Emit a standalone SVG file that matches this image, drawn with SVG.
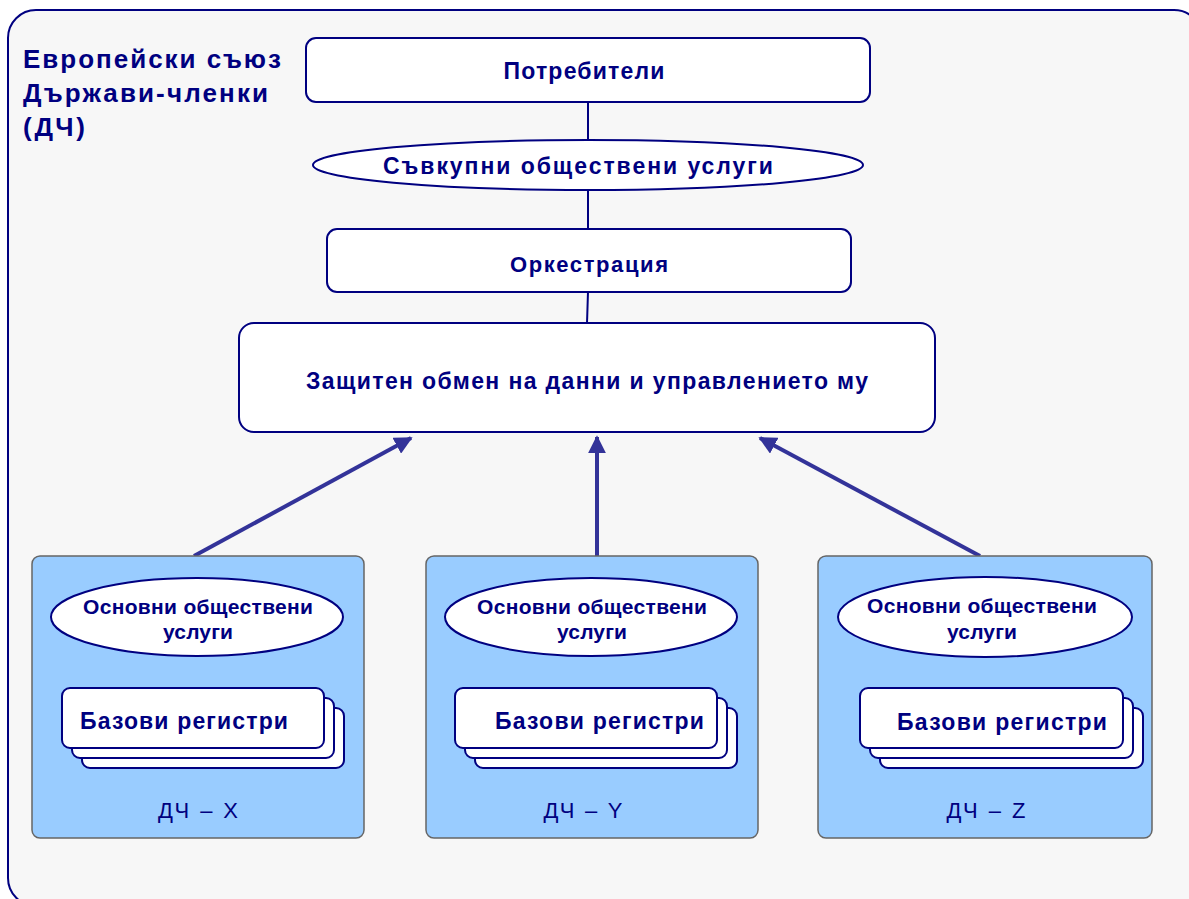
<svg xmlns="http://www.w3.org/2000/svg" width="1189" height="899" viewBox="0 0 1189 899">
<defs>
<style>
.t{font-family:"Liberation Sans",Arial,sans-serif;fill:#000080;font-weight:bold;}
.n{font-family:"Liberation Sans",Arial,sans-serif;fill:#000080;font-weight:normal;}
.box{fill:#ffffff;stroke:#000080;stroke-width:2;}
.ms{fill:#99ccff;stroke:#666666;stroke-width:1.5;}
.ln{stroke:#000080;stroke-width:2;fill:none;}
.ar{stroke:#333399;stroke-width:4;fill:none;}
</style>
<marker id="ah" viewBox="0 0 10 10" refX="9" refY="5" markerWidth="4.5" markerHeight="4.5" orient="auto" markerUnits="strokeWidth">
<path d="M0,0 L10,5 L0,10 z" fill="#333399"/>
</marker>
</defs>
<rect id="frame" x="8" y="10" width="1194" height="896" rx="28" fill="#f7f7f7" stroke="#000080" stroke-width="2"/>
<g id="title">
<text class="t" x="23" y="68" font-size="26" textLength="258" lengthAdjust="spacing">Европейски съюз</text>
<text class="t" x="23" y="102" font-size="26" textLength="245" lengthAdjust="spacing">Държави-членки</text>
<text class="t" x="23" y="136" font-size="26" textLength="62" lengthAdjust="spacing">(ДЧ)</text>
</g>
<g id="connectors">
<line class="ln" x1="588" y1="102" x2="588" y2="140"/>
<line class="ln" x1="588" y1="190" x2="588" y2="229"/>
<line class="ln" x1="588" y1="292" x2="587" y2="323"/>
<line class="ln" x1="197" y1="656" x2="193" y2="688"/>
<line class="ln" x1="592" y1="657" x2="587" y2="688"/>
<line class="ln" x1="986" y1="657" x2="991" y2="688"/>
<line class="ar" x1="194" y1="556" x2="411" y2="438" marker-end="url(#ah)"/>
<line class="ar" x1="597" y1="556" x2="597" y2="437" marker-end="url(#ah)"/>
<line class="ar" x1="980" y1="556" x2="760" y2="438" marker-end="url(#ah)"/>
</g>
<g id="users">
<rect class="box" x="306" y="38" width="564" height="64" rx="10"/>
<text class="t" x="584" y="79" font-size="23" text-anchor="middle" textLength="161" lengthAdjust="spacing">Потребители</text>
</g>
<g id="aggregate">
<ellipse class="box" cx="588" cy="165" rx="275" ry="25"/>
<text class="t" x="578" y="174" font-size="23" text-anchor="middle" textLength="390" lengthAdjust="spacing">Съвкупни обществени услуги</text>
</g>
<g id="orchestration">
<rect class="box" x="327" y="229" width="524" height="63" rx="10"/>
<text class="t" x="589" y="272" font-size="22" text-anchor="middle" textLength="158" lengthAdjust="spacing">Оркестрация</text>
</g>
<g id="exchange">
<rect class="box" x="239" y="323" width="696" height="109" rx="15"/>
<text class="t" x="587" y="389" font-size="23" text-anchor="middle" textLength="562" lengthAdjust="spacing">Защитен обмен на данни и управлението му</text>
</g>
<g id="ms-x">
<rect class="ms" x="32" y="556" width="332" height="282" rx="8"/>
<ellipse class="box" cx="197" cy="617" rx="146" ry="39"/>
<text class="t" x="198" y="614" font-size="21" text-anchor="middle" textLength="230" lengthAdjust="spacing">Основни обществени</text>
<text class="t" x="198" y="639" font-size="21" text-anchor="middle" textLength="70" lengthAdjust="spacing">услуги</text>
<rect class="box" x="82" y="708" width="262" height="60" rx="8"/>
<rect class="box" x="72" y="698" width="262" height="60" rx="8"/>
<rect class="box" x="62" y="688" width="262" height="60" rx="8"/>
<text class="t" x="80" y="729" font-size="23" textLength="208" lengthAdjust="spacing">Базови регистри</text>
<text class="n" x="198" y="818" font-size="22" text-anchor="middle" textLength="80" lengthAdjust="spacing">ДЧ – X</text>
</g>
<g id="ms-y">
<rect class="ms" x="426" y="556" width="332" height="282" rx="8"/>
<ellipse class="box" cx="591" cy="617" rx="146" ry="39"/>
<text class="t" x="592" y="614" font-size="21" text-anchor="middle" textLength="230" lengthAdjust="spacing">Основни обществени</text>
<text class="t" x="592" y="639" font-size="21" text-anchor="middle" textLength="70" lengthAdjust="spacing">услуги</text>
<rect class="box" x="475" y="708" width="262" height="60" rx="8"/>
<rect class="box" x="465" y="698" width="262" height="60" rx="8"/>
<rect class="box" x="455" y="688" width="262" height="60" rx="8"/>
<text class="t" x="495" y="729" font-size="23" textLength="209" lengthAdjust="spacing">Базови регистри</text>
<text class="n" x="583" y="818" font-size="22" text-anchor="middle" textLength="79" lengthAdjust="spacing">ДЧ – Y</text>
</g>
<g id="ms-z">
<rect class="ms" x="818" y="556" width="334" height="282" rx="8"/>
<ellipse class="box" cx="985" cy="617" rx="147" ry="40"/>
<text class="t" x="982" y="613" font-size="21" text-anchor="middle" textLength="230" lengthAdjust="spacing">Основни обществени</text>
<text class="t" x="982" y="639" font-size="21" text-anchor="middle" textLength="70" lengthAdjust="spacing">услуги</text>
<rect class="box" x="880" y="708" width="263" height="60" rx="8"/>
<rect class="box" x="870" y="698" width="263" height="60" rx="8"/>
<rect class="box" x="860" y="688" width="263" height="60" rx="8"/>
<text class="t" x="897" y="730" font-size="23" textLength="210" lengthAdjust="spacing">Базови регистри</text>
<text class="n" x="986" y="818" font-size="22" text-anchor="middle" textLength="79" lengthAdjust="spacing">ДЧ – Z</text>
</g>
</svg>
